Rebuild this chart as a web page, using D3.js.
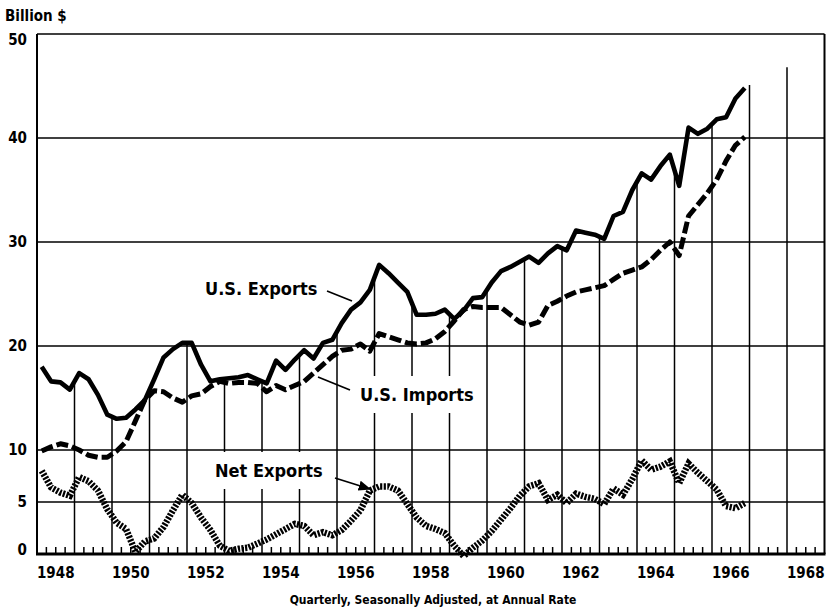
<!DOCTYPE html>
<html><head><meta charset="utf-8">
<script src="https://cdn.jsdelivr.net/npm/d3@7"></script>
<style>body{margin:0;background:#fff}svg{display:block}</style>
</head><body><svg id="c" width="831" height="611"></svg>
<script>
// ---- data (quarterly, seasonally adjusted, annual rate, billion $), 1948 Q1 .. 1966 Q4
const startYear = 1948;
const exportsVals = [
  18.0, 16.6, 16.5, 15.8,  17.4, 16.8, 15.3, 13.4,  13.0, 13.1, 13.9, 14.8,
  16.8, 18.9, 19.7, 20.3,  20.3, 18.2, 16.6, 16.8,  16.9, 17.0, 17.2, 16.8,
  16.4, 18.6, 17.7, 18.7,  19.6, 18.8, 20.3, 20.6,  22.2, 23.5, 24.2, 25.4,
  27.8, 27.0, 26.1, 25.2,  23.0, 23.0, 23.1, 23.5,  22.6, 23.4, 24.6, 24.7,
  26.1, 27.2, 27.6, 28.1,  28.6, 28.0, 28.9, 29.6,  29.2, 31.1, 30.9, 30.7,
  30.3, 32.5, 32.9, 35.0,  36.6, 36.0, 37.3, 38.4,  35.4, 41.0, 40.4, 40.9,
  41.8, 42.0, 43.8, 44.8];
const importsVals = [
  9.9, 10.3, 10.6, 10.4,  10.0, 9.5, 9.3, 9.3,  9.9, 10.8, 12.8, 14.8,
  15.7, 15.6, 15.0, 14.6,  15.2, 15.4, 16.1, 16.6,  16.4, 16.5, 16.5, 16.4,
  15.6, 16.2, 15.8, 16.2,  16.6, 17.4, 18.2, 19.0,  19.6, 19.7, 20.2, 19.5,
  21.2, 20.9, 20.6, 20.3,  20.2, 20.3, 20.7, 21.4,  22.4, 23.5, 23.8, 23.7,
  23.7, 23.7, 23.0, 22.3,  22.0, 22.3, 23.9, 24.3,  24.8, 25.2, 25.4, 25.6,
  25.8, 26.4, 27.0, 27.3,  27.6, 28.3, 29.2, 30.0,  28.7, 32.5, 33.6, 34.7,
  36.0, 37.8, 39.3, 40.1];
const netVals = [
  8.0, 6.4, 5.9, 5.6,  7.4, 7.0, 6.1, 4.3,  3.0, 2.4, 0.2, 1.2,
  1.5, 2.6, 4.2, 5.7,  4.9, 3.5, 2.3, 0.8,  0.3, 0.5, 0.6, 1.0,
  1.4, 1.9, 2.4, 2.9,  2.7, 1.8, 2.1, 1.8,  2.3, 3.2, 4.2, 6.1,
  6.5, 6.5, 6.1, 4.8,  3.5, 2.7, 2.4, 2.0,  0.8, -0.2, 0.6, 1.3,
  2.2, 3.3, 4.4, 5.6,  6.5, 6.8, 5.2, 5.7,  4.9, 5.8, 5.5, 5.3,
  4.8, 6.3, 5.7, 7.2,  9.0, 8.1, 8.4, 8.9,  6.8, 8.7, 7.8, 7.0,
  6.2, 4.6, 4.4, 4.9];
const yTickVals = [0, 5, 10, 20, 30, 40, 50];
const xLabelYears = [1948, 1950, 1952, 1954, 1956, 1958, 1960, 1962, 1964, 1966, 1968];
const extraGridTops = [45.1, 46.8];   // year lines for 1967 and 1968 beyond the data

const FONT = "'DejaVu Sans Condensed', 'DejaVu Sans', sans-serif";
const svg = d3.select("#c");
const x = d3.scaleLinear().domain([1948, 1969]).range([37, 824.5]);
const y = d3.scaleLinear().domain([0, 50]).range([554, 34]);

const tOf = i => startYear + (i + 0.5) / 4;
const mk = vals => vals.map((v, i) => ({t: tOf(i), v}));
const ex = mk(exportsVals), im = mk(importsVals), net = mk(netVals);

const g = svg.append("g");

// horizontal grid
g.selectAll("line.h").data(yTickVals.filter(d => d > 0)).join("line")
  .attr("x1", x(1948)).attr("x2", x(1969))
  .attr("y1", d => y(d)).attr("y2", d => y(d))
  .attr("stroke", "#000").attr("stroke-width", d => d === 50 ? 1.6 : 1.4);

// vertical year lines up to exports curve
const exAt = t => {
  const i = d3.bisector(d => d.t).left(ex, t);
  if (i <= 0) return ex[0].v;
  if (i >= ex.length) return ex[ex.length - 1].v;
  const a = ex[i - 1], b = ex[i];
  return a.v + (b.v - a.v) * (t - a.t) / (b.t - a.t);
};
const yearLines = d3.range(1949, 1967).map(yr => ({yr, top: exAt(yr)}))
  .concat([{yr: 1967, top: extraGridTops[0]}, {yr: 1968, top: extraGridTops[1]}]);
g.selectAll("line.v").data(yearLines).join("line")
  .attr("x1", d => x(d.yr)).attr("x2", d => x(d.yr))
  .attr("y1", y(0)).attr("y2", d => y(d.top))
  .attr("stroke", "#000").attr("stroke-width", 1.5);

// quarter ticks
const qTicks = [];
d3.range(1948, 1969).forEach(yr => [0.25, 0.5, 0.75].forEach(f => qTicks.push(yr + f)));
g.selectAll("line.q").data(qTicks).join("line")
  .attr("x1", d => x(d)).attr("x2", d => x(d))
  .attr("y1", y(0)).attr("y2", y(0) - 7)
  .attr("stroke", "#000").attr("stroke-width", 1.5);

// frame
g.append("line").attr("x1", x(1948)).attr("x2", x(1948)).attr("y1", y(50)).attr("y2", y(0))
  .attr("stroke", "#000").attr("stroke-width", 2);
g.append("line").attr("x1", x(1969)).attr("x2", x(1969)).attr("y1", y(50)).attr("y2", y(0))
  .attr("stroke", "#000").attr("stroke-width", 2);
g.append("line").attr("x1", x(1948) - 1).attr("x2", x(1969) + 1).attr("y1", y(0)).attr("y2", y(0))
  .attr("stroke", "#000").attr("stroke-width", 3);

// label knock-outs (white behind the labels)
const labels = [
  {text: "U.S. Exports", x: 205, y: 295},
  {text: "U.S. Imports", x: 360, y: 401},
  {text: "Net Exports", x: 215, y: 477}
];
const lblG = svg.append("g");
const lblText = lblG.selectAll("text").data(labels).join("text")
  .attr("x", d => d.x).attr("y", d => d.y)
  .attr("font-family", FONT).attr("font-weight", "bold").attr("font-size", 18)
  .attr("fill", "#000").text(d => d.text);
lblText.each(function(d) { d.bb = this.getBBox(); });
const knock = svg.insert("g", () => lblG.node());
knock.selectAll("rect").data(labels).join("rect")
  .attr("x", d => d.bb.x - 4).attr("y", d => d.bb.y - 8)
  .attr("width", d => d.bb.width + 8).attr("height", d => d.bb.height + 16)
  .attr("fill", "#fff");

// series lines
const line = d3.line().x(d => x(d.t)).y(d => y(d.v));
const linesG = svg.insert("g", () => lblG.node());
linesG.append("path").datum(net).attr("d", line).attr("fill", "none")
  .attr("stroke", "#000").attr("stroke-width", 6.5).attr("stroke-dasharray", "2.2,1.4");
linesG.append("path").datum(im).attr("d", line).attr("fill", "none")
  .attr("stroke", "#000").attr("stroke-width", 5).attr("stroke-dasharray", "12,4")
  .attr("stroke-linejoin", "round");
linesG.append("path").datum(ex).attr("d", line).attr("fill", "none")
  .attr("stroke", "#000").attr("stroke-width", 4.6).attr("stroke-linejoin", "round");

// pointers
svg.append("defs").append("marker").attr("id", "ah")
  .attr("viewBox", "0 0 10 10").attr("refX", 9).attr("refY", 5)
  .attr("markerWidth", 7).attr("markerHeight", 7).attr("orient", "auto")
  .append("path").attr("d", "M0,1 L10,5 L0,9 Z").attr("fill", "#000");
const pointers = [
  {x1: 327, y1: 291, x2: 352, y2: 301, head: false},
  {x1: 350, y1: 390, x2: 318, y2: 377, head: false},
  {x1: 335, y1: 478, x2: 370, y2: 489, head: true}
];
svg.selectAll("line.p").data(pointers).join("line")
  .attr("x1", d => d.x1).attr("y1", d => d.y1).attr("x2", d => d.x2).attr("y2", d => d.y2)
  .attr("stroke", "#000").attr("stroke-width", 1.8)
  .attr("marker-end", d => d.head ? "url(#ah)" : null);

// y tick labels
svg.selectAll("text.yl").data(yTickVals).join("text")
  .attr("x", 27).attr("y", d => y(d) + (d === 50 ? 6 : d === 0 ? -4 : 0))
  .attr("dy", "0.36em").attr("text-anchor", "end")
  .attr("font-family", FONT).attr("font-weight", "bold").attr("font-size", 15)
  .text(d => d);

// x labels
svg.selectAll("text.xl").data(xLabelYears).join("text")
  .attr("x", d => x(d + 0.5)).attr("y", 578).attr("text-anchor", "middle")
  .attr("font-family", FONT).attr("font-weight", "bold").attr("font-size", 15)
  .text(d => d);

svg.append("text").attr("x", 5).attr("y", 21)
  .attr("font-family", FONT).attr("font-weight", "bold").attr("font-size", 15)
  .text("Billion $");

svg.append("text").attr("x", 433).attr("y", 604).attr("text-anchor", "middle")
  .attr("font-family", FONT).attr("font-weight", "bold").attr("font-size", 12)
  .text("Quarterly, Seasonally Adjusted, at Annual Rate");
</script></body></html>
